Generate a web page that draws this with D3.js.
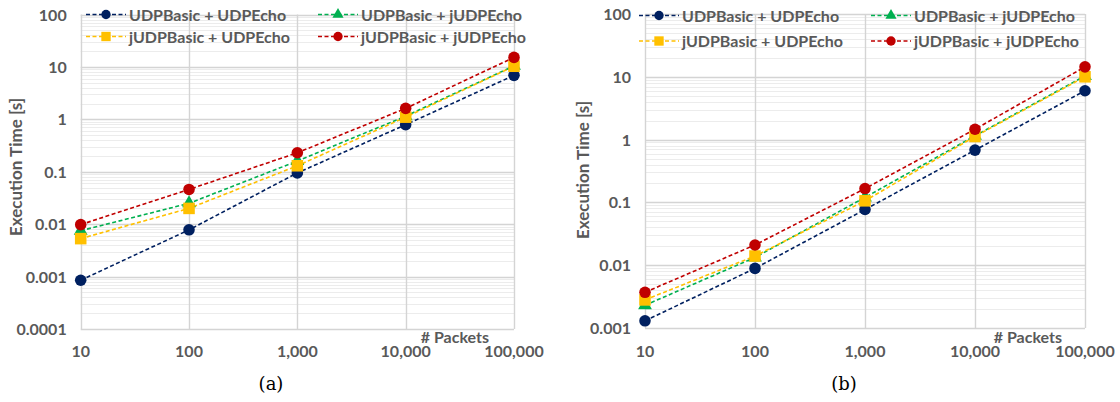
<!DOCTYPE html>
<html>
<head>
<meta charset="utf-8">
<script src="https://cdn.jsdelivr.net/npm/d3@7"></script>
<style>
  body { margin: 0; background: #fff; }
  svg { display: block; }
  text { font-family: Lato, "Open Sans", sans-serif; fill: #595959; }
</style>
</head>
<body>
<svg id="chart" width="1120" height="402"></svg>
<script>
// x values (number of packets)
var packets = [10, 100, 1000, 10000, 100000];
var xTickLabels = ["10", "100", "1,000", "10,000", "100,000"];

var seriesNames = ["UDPBasic + UDPEcho", "UDPBasic + jUDPEcho", "jUDPBasic + UDPEcho", "jUDPBasic + jUDPEcho"];
var seriesColors = ["#002060", "#00B050", "#FFC000", "#C00000"];
var seriesMarkers = ["circle", "triangle", "square", "circle"];

// panel (a), execution time in seconds
var aUdpUdp = [0.00085, 0.0078, 0.095, 0.79, 6.9];
var aUdpJ   = [0.0075, 0.025, 0.16, 1.15, 10.5];
var aJUdp   = [0.0053, 0.020, 0.13, 1.1, 10.3];
var aJJ     = [0.0098, 0.046, 0.23, 1.62, 15.2];
var aYTicks = ["0.0001", "0.001", "0.01", "0.1", "1", "10", "100"];

// panel (b)
var bUdpUdp = [0.0013, 0.0089, 0.077, 0.68, 6.0];
var bUdpJ   = [0.0023, 0.0133, 0.12, 1.15, 10.3];
var bJUdp   = [0.0028, 0.014, 0.106, 1.12, 10];
var bJJ     = [0.0037, 0.021, 0.166, 1.46, 14.4];
var bYTicks = ["0.001", "0.01", "0.1", "1", "10", "100"];

var svg = d3.select('#chart');

drawPanel({
  left: 80.7, right: 514, top: 14.5, bottom: 329,
  yMin: 0.0001, yTicks: aYTicks,
  legendX: [86, 318], legendY: [14.5, 36.5],
  titleX: 16, titleY: 167, packetsX: 489, caption: "(a)", captionX: 271,
  series: [aUdpUdp, aUdpJ, aJUdp, aJJ]
});
drawPanel({
  left: 645, right: 1085, top: 14, bottom: 328,
  yMin: 0.001, yTicks: bYTicks,
  legendX: [639, 871], legendY: [15.5, 41],
  titleX: 583, titleY: 170, packetsX: 1062, caption: "(b)", captionX: 844,
  series: [bUdpUdp, bUdpJ, bJUdp, bJJ]
});

function drawPanel(p){
  var g = svg.append('g');
  var x = d3.scaleLog().domain([10, 100000]).range([p.left, p.right]);
  var y = d3.scaleLog().domain([p.yMin, 100]).range([p.bottom, p.top]);

  // minor grid
  var minors = [];
  for (var e = Math.log10(p.yMin); e < 2; e++) {
    for (var k = 2; k < 10; k++) minors.push(k * Math.pow(10, e));
  }
  g.selectAll('.minor').data(minors).enter().append('line')
    .attr('x1', p.left).attr('x2', p.right)
    .attr('y1', d => Math.round(y(d)) + 0.5).attr('y2', d => Math.round(y(d)) + 0.5)
    .attr('stroke', '#ececec').attr('stroke-width', 1);

  var majors = p.yTicks.map(Number);
  g.selectAll('.major').data(majors).enter().append('line')
    .attr('x1', p.left).attr('x2', p.right)
    .attr('y1', d => Math.round(y(d)) + 0.5).attr('y2', d => Math.round(y(d)) + 0.5)
    .attr('stroke', '#d4d4d4').attr('stroke-width', 1.4);

  g.selectAll('.vgrid').data(packets).enter().append('line')
    .attr('x1', d => Math.round(x(d)) + 0.5).attr('x2', d => Math.round(x(d)) + 0.5)
    .attr('y1', p.top).attr('y2', p.bottom)
    .attr('stroke', '#d4d4d4').attr('stroke-width', 1.4);

  // y tick labels
  g.selectAll('.ylab').data(p.yTicks).enter().append('text')
    .attr('x', p.left - 14).attr('y', d => y(+d) + 6)
    .attr('text-anchor', 'end')
    .style('font-size', '16px').style('font-weight', 'bold')
    .text(d => d);

  // x tick labels
  g.selectAll('.xlab').data(packets).enter().append('text')
    .attr('x', d => x(d)).attr('y', 357)
    .attr('text-anchor', 'middle')
    .style('font-size', '16px').style('font-weight', 'bold')
    .text((d, i) => xTickLabels[i]);

  g.append('text')
    .attr('x', p.packetsX).attr('y', 343)
    .attr('text-anchor', 'end')
    .style('font-size', '16px').style('font-weight', 'bold')
    .text('# Packets');

  g.append('text')
    .attr('transform', 'translate(' + (p.titleX + 6) + ',' + p.titleY + ') rotate(-90)')
    .attr('text-anchor', 'middle')
    .style('font-size', '17px').style('font-weight', 'bold')
    .text('Execution Time [s]');

  g.append('text')
    .attr('x', p.captionX).attr('y', 390)
    .attr('text-anchor', 'middle')
    .style('font-family', '"DejaVu Serif", "Liberation Serif", serif')
    .style('font-size', '18px').style('fill', '#000')
    .text(p.caption);

  var line = d3.line().x((d, i) => x(packets[i])).y(d => y(d));

  p.series.forEach(function(vals, s){
    g.append('path')
      .attr('d', line(vals))
      .attr('fill', 'none')
      .attr('stroke', seriesColors[s])
      .attr('stroke-width', 1.6)
      .attr('stroke-dasharray', '4,2.5');
  });
  p.series.forEach(function(vals, s){
    vals.forEach(function(v, i){
      marker(g, seriesMarkers[s], x(packets[i]), y(v), seriesColors[s], 1.05);
    });
  });

  // legend
  seriesNames.forEach(function(name, s){
    var lx = p.legendX[s % 2], ly = p.legendY[Math.floor(s / 2)];
    g.append('line')
      .attr('x1', lx).attr('x2', lx + 40).attr('y1', ly).attr('y2', ly)
      .attr('stroke', seriesColors[s]).attr('stroke-width', 1.6)
      .attr('stroke-dasharray', '4,2.5');
    marker(g, seriesMarkers[s], lx + 20, ly, seriesColors[s], 0.85);
    g.append('text')
      .attr('x', lx + 43).attr('y', ly + 6)
      .style('font-size', '16px').style('font-weight', 'bold')
      .text(name);
  });
}

function marker(g, type, cx, cy, color, sc){
  if (type === 'circle') {
    g.append('circle').attr('cx', cx).attr('cy', cy).attr('r', 5.5 * sc).attr('fill', color);
  } else if (type === 'square') {
    var h = 5.5 * sc;
    g.append('rect').attr('x', cx - h).attr('y', cy - h).attr('width', 2 * h).attr('height', 2 * h).attr('fill', color);
  } else {
    g.append('path')
      .attr('d', d3.symbol().type(d3.symbolTriangle).size(75 * sc * sc)())
      .attr('transform', 'translate(' + cx + ',' + cy + ')')
      .attr('fill', color);
  }
}
</script>
</body>
</html>
